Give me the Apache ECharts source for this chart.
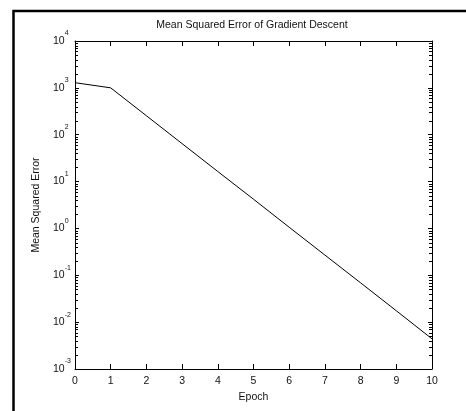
<!DOCTYPE html>
<html>
<head>
<meta charset="utf-8">
<script src="https://cdn.jsdelivr.net/npm/echarts@6/dist/echarts.min.js"></script>
<style>
  html, body { margin: 0; padding: 0; background: #fff; }
  #chart { width: 466px; height: 411px; }
</style>
</head>
<body>
<div id="chart"></div>
<script>
// values
const epochs = [0, 1, 2, 3, 4, 5, 6, 7, 8, 9, 10];
const mse = [1290, 1000, 254, 64.5, 16.4, 4.2, 1.06, 0.27, 0.069, 0.0175, 0.0044];

const decades = [0.001, 0.01, 0.1, 1, 10, 100, 1000];
const minorSteps = [2, 3, 4, 5, 6, 7, 8, 9];

const FONT = "Liberation Sans, Arial, sans-serif";

document.addEventListener("DOMContentLoaded", function () {
  const chartDom = document.getElementById("chart");
  const myChart = echarts.init(chartDom);

  const lineData = epochs.map(function (e, i) { return [e, mse[i]]; });
  const minorData = [];
  decades.forEach(function (d) {
    minorSteps.forEach(function (m) { minorData.push([5, d * m]); });
  });

  const expLabel = function (value) {
    const p = Math.round(Math.log10(value));
    return "{b|10}{e|" + p + "}";
  };

  const yCommon = {
    type: "log",
    logBase: 10,
    min: 0.001,
    max: 10000,
    splitNumber: 7,
    splitLine: { show: false },
    axisLine: { show: true, onZero: false, lineStyle: { color: "#000", width: 1 } },
    axisTick: { show: true, inside: true, length: 4, lineStyle: { color: "#000" } },
  };
  const xCommon = {
    type: "value",
    min: 0,
    max: 10,
    interval: 1,
    splitLine: { show: false },
    axisLine: { show: true, onZero: false, lineStyle: { color: "#000", width: 1 } },
    axisTick: { show: true, inside: true, length: 5, lineStyle: { color: "#000" } },
  };

  const option = {
    animation: false,
    backgroundColor: "#fff",
    textStyle: { fontFamily: FONT },
    title: {
      text: "Mean Squared Error of Gradient Descent",
      left: 252,
      top: 20,
      padding: 0,
      textAlign: "center",
      textStyle: { fontFamily: FONT, fontSize: 10.5, fontWeight: "normal", color: "#111" },
    },
    grid: { left: 75, right: 34, top: 41, bottom: 42 },
    graphic: [
      {
        type: "rect",
        shape: { x: 13.5, y: 11, width: 600, height: 600 },
        style: { fill: null, stroke: "#000", lineWidth: 2.5 },
        silent: true,
      },
    ],
    xAxis: [
      Object.assign({}, xCommon, {
        position: "bottom",
        name: "Epoch",
        nameLocation: "middle",
        nameGap: 20,
        nameTextStyle: { fontFamily: FONT, fontSize: 10.5, color: "#111" },
        axisLabel: { margin: 7, fontFamily: FONT, fontSize: 10.5, color: "#111" },
      }),
      Object.assign({}, xCommon, {
        position: "top",
        axisLabel: { show: false },
      }),
    ],
    yAxis: [
      Object.assign({}, yCommon, {
        position: "left",
        name: "Mean Squared Error",
        nameLocation: "middle",
        nameGap: 30,
        nameTextStyle: { fontFamily: FONT, fontSize: 10.5, color: "#111" },
        axisLabel: {
          margin: 22,
          align: "left",
          formatter: expLabel,
          color: "#111",
          rich: {
            b: { fontFamily: FONT, fontSize: 10.5, lineHeight: 12, color: "#111" },
            e: { fontFamily: FONT, fontSize: 7, lineHeight: 7, padding: [0, 0, 15, 0], color: "#111" },
          },
        },
      }),
      Object.assign({}, yCommon, {
        position: "right",
        axisLabel: { show: false },
      }),
    ],
    series: [
      {
        name: "MSE",
        type: "line",
        data: lineData,
        xAxisIndex: 0,
        yAxisIndex: 0,
        showSymbol: false,
        symbol: "none",
        lineStyle: { color: "#000", width: 1 },
        silent: true,
        z: 3,
      },
      {
        // logarithmic minor ticks on both vertical axes
        name: "minor ticks",
        type: "custom",
        data: minorData,
        xAxisIndex: 0,
        yAxisIndex: 0,
        silent: true,
        clip: false,
        z: 10,
        encode: { x: 0, y: 1 },
        renderItem: function (params, api) {
          const v = api.value(1);
          const p = api.coord([5, v]);
          const y = Math.round(p[1]) + 0.5;
          const xl = Math.round(params.coordSys.x);
          const xr = Math.round(params.coordSys.x + params.coordSys.width);
          return {
            type: "group",
            children: [
              { type: "line", shape: { x1: xl, y1: y, x2: xl + 3, y2: y }, style: { stroke: "#000", lineWidth: 1 } },
              { type: "line", shape: { x1: xr - 3, y1: y, x2: xr, y2: y }, style: { stroke: "#000", lineWidth: 1 } },
            ],
          };
        },
      },
    ],
  };

  myChart.setOption(option);
});
</script>
</body>
</html>
